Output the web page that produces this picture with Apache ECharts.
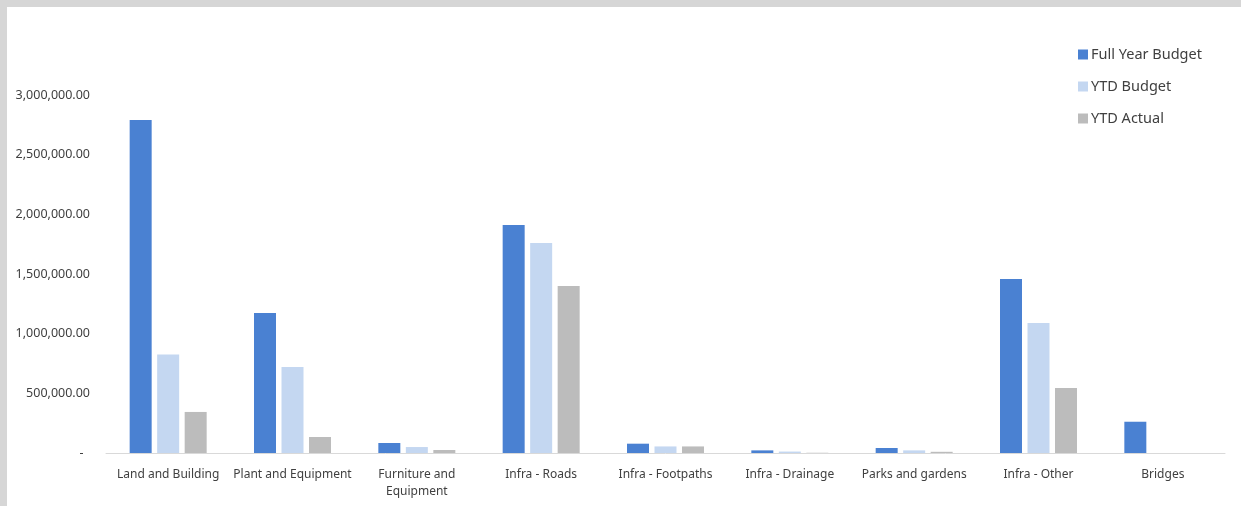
<!DOCTYPE html>
<html>
<head>
<meta charset="utf-8">
<script src="https://cdn.jsdelivr.net/npm/echarts@6/dist/echarts.min.js"></script>
<style>
html,body{margin:0;padding:0;background:#fff;}
#c{width:1241px;height:506px;}
</style>
</head>
<body>
<div id="c"></div>
<script>
const categories = ['Land and Building','Plant and Equipment','Furniture and\nEquipment','Infra - Roads','Infra - Footpaths','Infra - Drainage','Parks and gardens','Infra - Other','Bridges'];
const seriesNames = ['Full Year Budget','YTD Budget','YTD Actual'];
const fullYearBudget = [2790000,1173000,84000,1911000,78000,22000,42000,1458000,262000];
const ytdBudget = [825000,721000,50000,1760000,55000,12000,22000,1089000,0];
const ytdActual = [344000,134000,25000,1400000,55000,2000,10000,545000,0];
const colors = ['#4a81d2','#c4d7f1','#bcbcbc'];

const chart = echarts.init(document.getElementById('c'), null, {renderer:'canvas'});
const font = '"Noto Sans", "Open Sans", sans-serif';
function fmt(v){
  if (v === 0) return '-  ';
  return v.toLocaleString('en-US',{minimumFractionDigits:2,maximumFractionDigits:2});
}
const data = [fullYearBudget, ytdBudget, ytdActual];
chart.setOption({
  animation:false,
  textStyle:{fontFamily:font},
  graphic:[
    {type:'rect', shape:{x:0,y:0,width:1241,height:7}, style:{fill:'#d6d6d6'}, silent:true},
    {type:'rect', shape:{x:0,y:0,width:7,height:506}, style:{fill:'#d6d6d6'}, silent:true}
  ],
  legend:{
    orient:'vertical',
    left:1073, top:42,
    itemWidth:10, itemHeight:10, itemGap:17,
    icon:'rect',
    textStyle:{fontSize:14.5,color:'#404040',fontFamily:font,padding:[0,0,0,-2]},
    data:seriesNames
  },
  grid:{left:106,right:16,top:95,bottom:53,containLabel:false},
  xAxis:{
    type:'category',
    data:categories,
    axisLine:{show:true,lineStyle:{color:'#d9d9d9',width:1}},
    axisTick:{show:false},
    axisLabel:{color:'#404040',fontSize:12,margin:13,lineHeight:17,interval:0,fontFamily:font}
  },
  yAxis:{
    type:'value',
    min:0,max:3000000,interval:500000,
    axisLine:{show:false},
    axisTick:{show:false},
    splitLine:{show:false},
    axisLabel:{color:'#404040',fontSize:12.5,margin:16,formatter:fmt,fontFamily:font}
  },
  series: seriesNames.map((n,i)=>({
    name:n,
    type:'bar',
    data:data[i],
    barWidth:22,
    barGap:'25%',
    itemStyle:{color:colors[i]}
  }))
});
</script>
</body>
</html>
